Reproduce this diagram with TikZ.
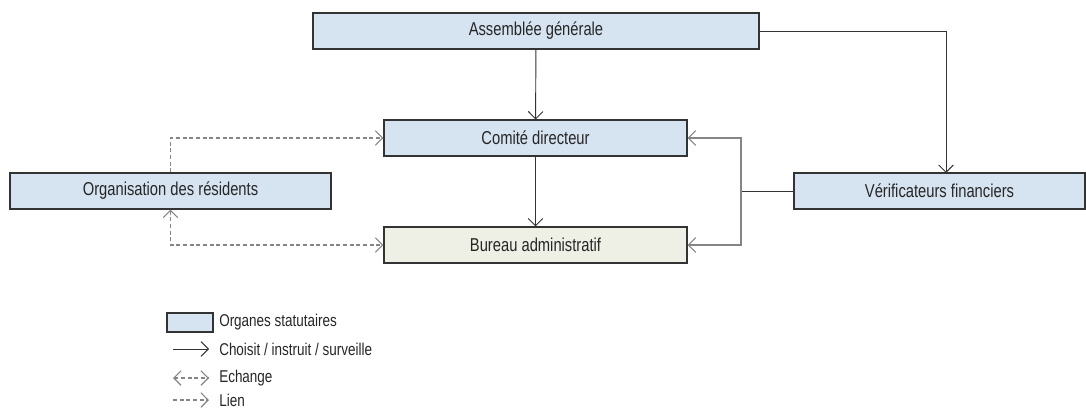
\documentclass[tikz,border=0pt]{standalone}
\usepackage{fontspec}
\setmainfont[FakeStretch=0.79]{Liberation Sans}
\usepackage{xcolor}
\usetikzlibrary{arrows.meta,positioning}
\definecolor{orgblue}{HTML}{D6E3F0}
\definecolor{orggreen}{HTML}{EEF0E6}
\definecolor{orgline}{HTML}{333333}
\definecolor{orggray}{HTML}{858585}

\begin{document}
\begin{tikzpicture}[
  x=0.75pt, y=-0.75pt,
  box/.style={draw=orgline, fill=#1, text=black!85, line width=0.8pt, minimum height=27pt, inner sep=0pt, font=\fontsize{14}{16}\selectfont},
  arr/.style={draw=orgline, line width=0.7pt, -{Straight Barb[length=5.5pt,width=11pt]}},
  grarr/.style={draw=orggray, line width=0.9pt, -{Straight Barb[length=5.5pt,width=11pt]}},
  lien/.style={draw=orggray, line width=0.8pt, dash pattern=on 3pt off 2pt, -{Straight Barb[length=5.5pt,width=11pt]}},
  echange/.style={lien, {Straight Barb[length=5.5pt,width=11pt]}-{Straight Barb[length=5.5pt,width=11pt]}},
  legtext/.style={anchor=west, inner xsep=7.5pt, inner ysep=0pt, text=black!85, font=\fontsize{12.8}{14}\selectfont}
]
  \useasboundingbox (0,0) rectangle (1086,410);

  \node[box=orgblue, minimum width=334.5pt] (ag) at (536,31) {Assemblée générale};
  \node[box=orgblue, minimum width=227.25pt] (cd) at (535.5,138) {Comité directeur};
  \node[box=orggreen, minimum width=227.25pt] (ba) at (535.5,245) {Bureau administratif};
  \node[box=orgblue, minimum width=240.75pt] (or) at (170.5,191) {Organisation des résidents};
  \node[box=orgblue, minimum width=218.25pt] (vf) at (939.5,191) {Vérificateurs financiers};

  \coordinate (vfin) at (946,173);
  \coordinate (split) at (741,191);

  \draw[arr] (ag) -- (cd);
  \draw[arr] (cd) -- (ba);
  \draw[arr] (ag.east) -| (vfin);
  \draw[orgline, line width=0.7pt] (vf.west) -- (split);
  \draw[grarr] (split) |- (cd.east);
  \draw[grarr] (split) |- (ba.east);
  \draw[lien] (or.north) |- (cd.west);
  \draw[echange] (or.south) |- (ba.west);

  \node[box=orgblue, minimum width=34.5pt, minimum height=14.25pt] (legbox) at (190,322.5) {};
  \node[legtext] (legorg) at (209,322.5) {Organes statutaires};
  \node[legtext] (legchoisit) at (209,349) {Choisit / instruit / surveille};
  \node[legtext] (legechange) at (209,378) {Echange};
  \node[legtext] (leglien) at (209,400) {Lien};
  \coordinate (lc) at (173,349);
  \coordinate (le) at (173,378);
  \coordinate (ll) at (173,400);
  \draw[arr] (lc) -- (legchoisit.west);
  \draw[echange] (le) -- (legechange.west);
  \draw[lien] (ll) -- (leglien.west);
\end{tikzpicture}
\end{document}
